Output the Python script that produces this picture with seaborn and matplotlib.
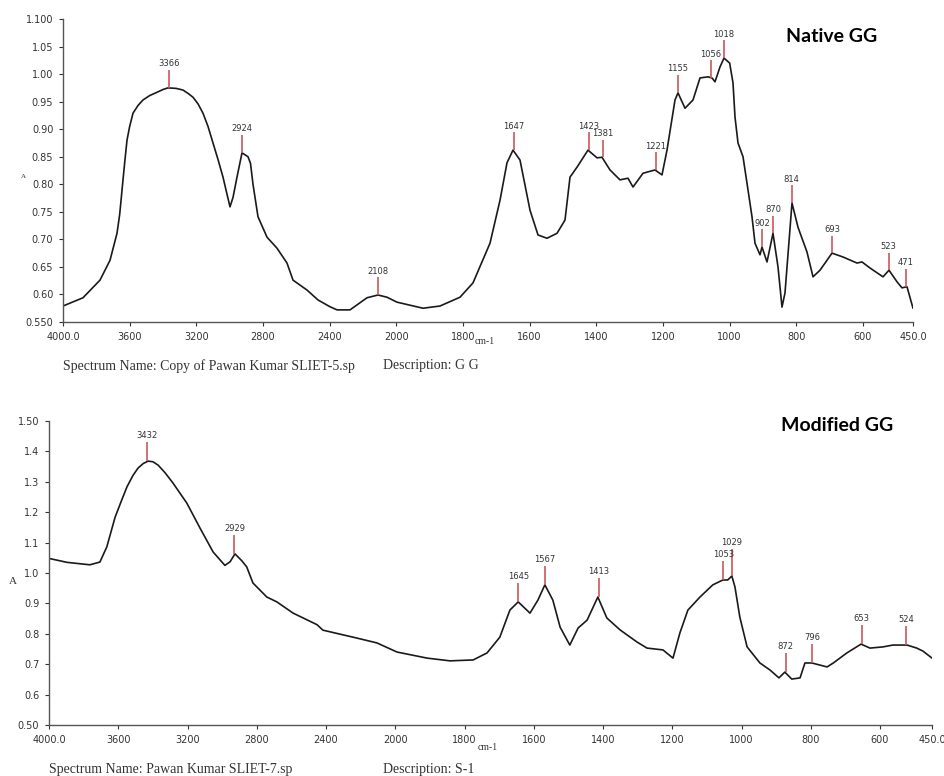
import numpy as np
import pandas as pd
import seaborn as sns
import matplotlib.pyplot as plt

# Native GG spectrum (wavenumber cm-1, absorbance)
native_wn = [4000, 3880, 3778, 3718, 3676, 3660, 3640, 3628, 3616, 3600, 3580, 3550, 3520,
             3480, 3436, 3400, 3370, 3320, 3280, 3250, 3220, 3190, 3160, 3130, 3100, 3070,
             3040, 3016, 2998, 2980, 2956, 2926, 2890, 2875, 2860, 2830, 2776, 2716, 2656,
             2620, 2536, 2470, 2400, 2356, 2278, 2176, 2110, 2056, 1998, 1920, 1869, 1809,
             1770, 1719, 1689, 1668, 1650, 1629, 1599, 1575, 1548, 1518, 1494, 1479, 1458,
             1425, 1398, 1383, 1359, 1329, 1305, 1290, 1260, 1224, 1203, 1188, 1164, 1155,
             1134, 1110, 1089, 1065, 1053, 1044, 1029, 1017, 1000, 990, 984, 975, 960, 948,
             933, 924, 909, 903, 888, 870, 855, 843, 834, 813, 795, 768, 750, 729, 693, 660,
             618, 603, 579, 540, 522, 498, 483, 468, 450]
native_abs = [0.579, 0.594, 0.626, 0.662, 0.711, 0.745, 0.808, 0.845, 0.880, 0.905, 0.929,
              0.943, 0.953, 0.961, 0.967, 0.972, 0.975, 0.974, 0.971, 0.965, 0.958, 0.946,
              0.929, 0.905, 0.875, 0.845, 0.813, 0.782, 0.759, 0.776, 0.813, 0.857, 0.850,
              0.838, 0.800, 0.741, 0.704, 0.684, 0.657, 0.626, 0.608, 0.590, 0.578, 0.572,
              0.572, 0.594, 0.599, 0.595, 0.586, 0.575, 0.579, 0.595, 0.621, 0.693, 0.771,
              0.839, 0.862, 0.844, 0.753, 0.708, 0.702, 0.711, 0.735, 0.813, 0.831, 0.862,
              0.848, 0.849, 0.826, 0.808, 0.811, 0.795, 0.820, 0.826, 0.817, 0.862, 0.953,
              0.966, 0.938, 0.953, 0.993, 0.995, 0.993, 0.986, 1.013, 1.029, 1.020, 0.984,
              0.922, 0.875, 0.850, 0.802, 0.741, 0.693, 0.672, 0.686, 0.659, 0.711, 0.650,
              0.577, 0.603, 0.766, 0.722, 0.677, 0.632, 0.644, 0.675, 0.668, 0.657, 0.659,
              0.648, 0.632, 0.644, 0.623, 0.612, 0.614, 0.575]
native_peaks = [3366, 2924, 2108, 1647, 1423, 1381, 1221, 1155, 1056, 1018, 902, 870, 814,
                693, 523, 471]
native_peak_abs = [0.975, 0.857, 0.599, 0.862, 0.862, 0.849, 0.826, 0.966, 0.993, 1.029,
                   0.686, 0.711, 0.766, 0.675, 0.644, 0.614]

# Modified GG spectrum
mod_wn = [4000, 3896, 3764, 3706, 3666, 3618, 3580, 3550, 3516, 3486, 3456, 3428, 3400,
          3370, 3330, 3284, 3204, 3128, 3052, 2984, 2954, 2926, 2886, 2858, 2822, 2742,
          2684, 2590, 2452, 2418, 2222, 2106, 1995, 1908, 1842, 1775, 1735, 1698, 1669,
          1645, 1611, 1588, 1568, 1545, 1524, 1496, 1472, 1446, 1415, 1389, 1351, 1302,
          1273, 1227, 1198, 1178, 1155, 1120, 1083, 1054, 1040, 1028, 1019, 1005, 984,
          947, 918, 892, 875, 855, 831, 817, 797, 753, 735, 696, 655, 629, 591, 563, 522,
          494, 476, 450]
mod_abs = [1.048, 1.035, 1.027, 1.036, 1.086, 1.184, 1.240, 1.283, 1.320, 1.345, 1.360,
           1.368, 1.366, 1.355, 1.330, 1.296, 1.230, 1.148, 1.069, 1.025, 1.037, 1.063,
           1.040, 1.020, 0.967, 0.921, 0.905, 0.868, 0.830, 0.812, 0.786, 0.770, 0.740,
           0.720, 0.711, 0.714, 0.737, 0.789, 0.878, 0.905, 0.868, 0.911, 0.961, 0.911,
           0.822, 0.763, 0.819, 0.845, 0.921, 0.852, 0.813, 0.773, 0.753, 0.747, 0.720,
           0.803, 0.878, 0.921, 0.961, 0.977, 0.977, 0.990, 0.954, 0.855, 0.757, 0.704,
           0.681, 0.655, 0.674, 0.651, 0.655, 0.704, 0.704, 0.691, 0.704, 0.737, 0.766,
           0.753, 0.757, 0.763, 0.763, 0.753, 0.743, 0.720]
mod_peaks = [3432, 2929, 1645, 1567, 1413, 1053, 1029, 872, 796, 653, 524]
mod_peak_abs = [1.368, 1.063, 0.905, 0.961, 0.921, 0.977, 0.990, 0.674, 0.704, 0.766, 0.763]

x_ticks = [4000, 3600, 3200, 2800, 2400, 2000, 1800, 1600, 1400, 1200, 1000, 800, 600, 450]
x_labels = ['4000.0', '3600', '3200', '2800', '2400', '2000', '1800', '1600', '1400',
            '1200', '1000', '800', '600', '450.0']
top_yticks = [0.55, 0.60, 0.65, 0.70, 0.75, 0.80, 0.85, 0.90, 0.95, 1.00, 1.05, 1.10]
top_ylabels = ['0.550', '0.60', '0.65', '0.70', '0.75', '0.80', '0.85', '0.90', '0.95',
               '1.00', '1.05', '1.100']
bot_yticks = [0.5, 0.6, 0.7, 0.8, 0.9, 1.0, 1.1, 1.2, 1.3, 1.4, 1.5]
bot_ylabels = ['0.50', '0.6', '0.7', '0.8', '0.9', '1.0', '1.1', '1.2', '1.3', '1.4', '1.50']


# spectrometer axis: 4000-2000 compressed 2x, 2000-450 expanded
def fwd(x):
    x = np.asarray(x, dtype=float)
    return np.where(x > 2000, 2000 + (x - 2000) / 2, x)


def inv(u):
    u = np.asarray(u, dtype=float)
    return np.where(u > 2000, 2000 + (u - 2000) * 2, u)


sns.set_style('ticks')
plt.rcParams['font.family'] = ['DejaVu Sans']

fig = plt.figure(figsize=(9.44, 7.76), dpi=100)
ax1 = fig.add_axes([63 / 944, 1 - 322 / 776, 850 / 944, 303 / 776])
ax2 = fig.add_axes([49 / 944, 1 - 725 / 776, 883 / 944, 304 / 776])

red = '#c8585c'
panels = [
    (ax1, native_wn, native_abs, native_peaks, native_peak_abs, 0.032,
     top_yticks, top_ylabels, (0.55, 1.10)),
    (ax2, mod_wn, mod_abs, mod_peaks, mod_peak_abs, 0.062,
     bot_yticks, bot_ylabels, (0.50, 1.50)),
]

for ax, wn, ab, pk, pka, off, yt, yl, ylim in panels:
    df = pd.DataFrame({'wn': wn, 'A': ab})
    ax.set_xscale('function', functions=(fwd, inv))
    sns.lineplot(data=df, x='wn', y='A', ax=ax, color='#1a1a1a', lw=1.2,
                 estimator=None, sort=False, solid_joinstyle='round')
    for p, a in zip(pk, pka):
        o = off
        if p == 1029:
            o = off * 1.45  # staggered above the 1053 label
        ax.vlines(p, a, a + o, color=red, lw=1.2)
        ax.text(p, a + o + off * 0.1, str(p), ha='center', va='bottom',
                fontsize=6, color='#333333')
    ax.set_xlim(4000, 450)
    ax.set_ylim(*ylim)
    ax.set_xticks(x_ticks)
    ax.set_xticklabels(x_labels)
    ax.set_yticks(yt)
    ax.set_yticklabels(yl)
    ax.minorticks_off()
    ax.tick_params(labelsize=7, colors='#333333', length=3, width=0.8, pad=4)
    ax.set_xlabel('')
    ax.set_ylabel('')
    for s in ['top', 'right']:
        ax.spines[s].set_visible(False)
    for s in ['left', 'bottom']:
        ax.spines[s].set_color('#555555')
        ax.spines[s].set_linewidth(1.0)

# axis labels and captions
fig.text(23 / 944, 1 - 177 / 776, 'A', fontsize=5, ha='center', va='center',
         family='Liberation Serif', color='#333333')
fig.text(13 / 944, 1 - 582 / 776, 'A', fontsize=8, ha='center', va='center',
         family='Liberation Serif', color='#333333')
fig.text(485 / 944, 1 - 342 / 776, 'cm-1', fontsize=7, ha='center', va='center',
         family='Liberation Serif', color='#333333')
fig.text(488 / 944, 1 - 747 / 776, 'cm-1', fontsize=7, ha='center', va='center',
         family='Liberation Serif', color='#333333')
fig.text(63 / 944, 1 - 366 / 776, 'Spectrum Name: Copy of Pawan Kumar SLIET-5.sp',
         fontsize=10, ha='left', va='center', family='Liberation Serif', color='#333333')
fig.text(383 / 944, 1 - 366 / 776, 'Description: G G',
         fontsize=10, ha='left', va='center', family='Liberation Serif', color='#333333')
fig.text(49 / 944, 1 - 770 / 776, 'Spectrum Name: Pawan Kumar SLIET-7.sp',
         fontsize=10, ha='left', va='center', family='Liberation Serif', color='#333333')
fig.text(383 / 944, 1 - 770 / 776, 'Description: S-1',
         fontsize=10, ha='left', va='center', family='Liberation Serif', color='#333333')

fig.text(832 / 944, 1 - 37 / 776, 'Native GG', fontsize=14, fontweight='bold',
         family='Lato', ha='center', va='center', color='black')
fig.text(837 / 944, 1 - 425 / 776, 'Modified GG', fontsize=14, fontweight='bold',
         family='Lato', ha='center', va='center', color='black')

fig.savefig('out.png', dpi=100)
